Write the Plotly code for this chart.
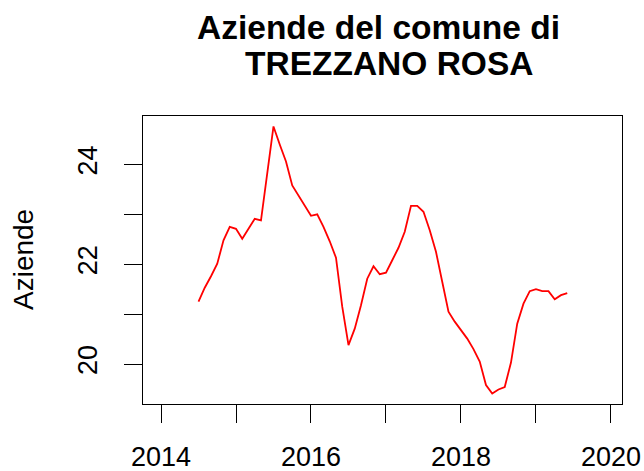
import plotly.graph_objects as go

# Data: monthly series starting July 2014
start_year = 2014
start_month = 7
aziende = [21.25, 21.53, 21.76, 22.01, 22.48, 22.75, 22.71, 22.51, 22.71, 22.91,
           22.88, 23.81, 24.76, 24.40, 24.06, 23.58, 23.38, 23.18, 22.97, 23.00,
           22.75, 22.46, 22.13, 21.15, 20.38, 20.71, 21.18, 21.71, 21.96, 21.80,
           21.83, 22.08, 22.33, 22.65, 23.17, 23.17, 23.05, 22.68, 22.25, 21.65,
           21.05, 20.85, 20.68, 20.51, 20.30, 20.05, 19.58, 19.41, 19.49, 19.54,
           20.03, 20.81, 21.21, 21.46, 21.50, 21.46, 21.46, 21.30, 21.38, 21.42]
x_tickvals = [2014, 2015, 2016, 2017, 2018, 2019, 2020]
x_ticktext = ["2014", "", "2016", "", "2018", "", "2020"]
y_tickvals = [20, 21, 22, 23, 24]
y_ticktext = ["20", "", "22", "", "24"]
title_lines = ["Aziende del comune di", "TREZZANO ROSA"]
y_label = "Aziende"

times = [start_year + (start_month - 1 + i) / 12 for i in range(len(aziende))]

FONT = "Liberation Sans, Arial, Helvetica, sans-serif"
W, H = 644, 471
ML, MR, MT, MB = 143, 22, 116, 67
PW, PH = W - ML - MR, H - MT - MB

def px_x(p):
    return (p - ML) / PW

def px_y(p):
    return (H - MB - p) / PH

fig = go.Figure()
fig.add_trace(go.Scatter(x=times, y=aziende, mode="lines",
                         line=dict(color="#FF0000", width=1.8),
                         hoverinfo="x+y", showlegend=False))

axis_common = dict(showgrid=False, zeroline=False, showline=True, mirror=True,
                   linecolor="black", linewidth=1.2, ticks="outside",
                   ticklen=18, tickwidth=1.2, tickcolor="black",
                   automargin=False,
                   tickfont=dict(family=FONT, size=27, color="black"))

fig.update_xaxes(range=[2013.76, 2020.147], tickmode="array",
                 tickvals=x_tickvals, ticktext=x_ticktext,
                 ticklabelstandoff=10, **axis_common)
fig.update_yaxes(range=[19.2, 24.97], tickmode="array",
                 tickvals=y_tickvals, ticktext=y_ticktext, tickangle=-90,
                 ticklabelstandoff=16, **axis_common)

annotations = [
    dict(text="<b>" + title_lines[0] + "</b>", x=px_x(378), y=px_y(27),
         xref="paper", yref="paper", xanchor="center", yanchor="middle",
         showarrow=False, font=dict(family=FONT, size=33.5, color="black")),
    dict(text="<b>" + title_lines[1] + "</b>", x=px_x(389), y=px_y(64),
         xref="paper", yref="paper", xanchor="center", yanchor="middle",
         showarrow=False, font=dict(family=FONT, size=33.5, color="black")),
    dict(text=y_label, x=px_x(23), y=px_y(260), textangle=-90,
         xref="paper", yref="paper", xanchor="center", yanchor="middle",
         showarrow=False, font=dict(family=FONT, size=28, color="black")),
]

fig.update_layout(width=W, height=H, margin=dict(l=ML, r=MR, t=MT, b=MB, autoexpand=False),
                  paper_bgcolor="white", plot_bgcolor="white",
                  annotations=annotations, showlegend=False)

fig.write_html("out.html", config={"displayModeBar": False},
               post_script="document.body.style.margin='0';document.body.style.overflow='hidden';")
